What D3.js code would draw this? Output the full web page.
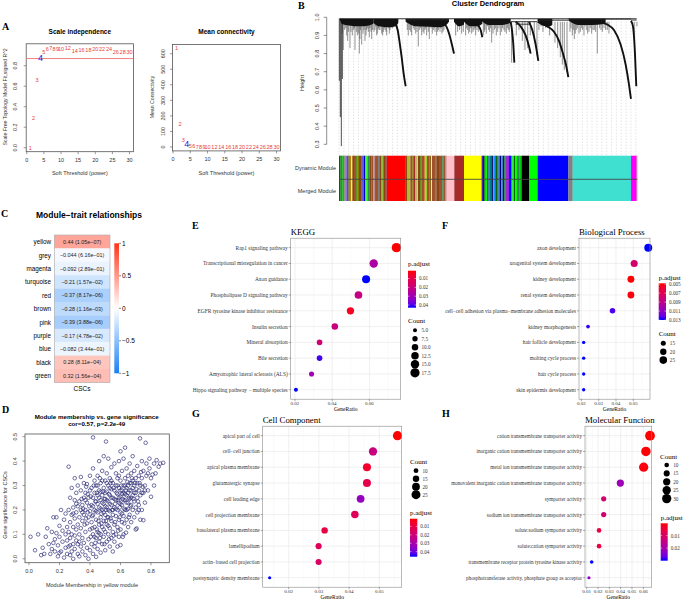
<!DOCTYPE html>
<html><head><meta charset="utf-8">
<script src="https://cdn.jsdelivr.net/npm/d3@7"></script>
<style>body{margin:0;background:#fff}svg{display:block}</style>
</head><body>
<svg id="c" width="685" height="599"></svg>
<script>
// ---------------- DATA ----------------
// Panel A: soft threshold
const powers = [1,2,3,4,5,6,7,8,9,10,12,14,16,18,20,22,24,26,28,30];
const scaleFreeR2 = [0.0,0.29,0.66,0.88,0.93,0.966,0.97,0.96,0.96,0.96,0.976,0.94,0.95,0.953,0.96,0.96,0.966,0.936,0.936,0.936];
const meanConnectivity = [634,148,45,17,8,4,3,2,2,1,1,1,0.5,0.5,0.5,0.3,0.3,0.2,0.2,0.2];
const r2Threshold = 0.87;
const selectedPower = 4;
const powerTicks = [0,5,10,15,20,25,30];
const r2Ticks = [0,0.2,0.4,0.6,0.8];
const kTicks = [0,100,200,300,400,500,600];

// Panel B: dendrogram (leaf position 0..895, height)
const heightTicks = [0.3,0.4,0.5,0.6,0.7,0.8,0.9,1.0];
const dendroMerges = [[1,893,0.992],[200,330,0.986],[515,595,0.976],[530,575,0.962],[596,690,0.984],[688,876,0.99],[876,893,0.985]];
const dendroMasses = [
  [[2,0.99],[8,0.965],[30,0.955],[60,0.95],[90,0.955],[103,0.965]],
  [[103,0.97],[120,0.95],[150,0.945],[170,0.95],[178,0.97]],
  [[200,0.975],[230,0.95],[270,0.948],[300,0.945],[320,0.955],[330,0.975]],
  [[345,0.975],[360,0.95],[375,0.96]],
  [[375,0.975],[395,0.95],[415,0.95],[430,0.965]],
  [[428,0.98],[450,0.958],[490,0.958],[515,0.97]],
  [[596,0.98],[610,0.955],[630,0.95],[640,0.958]],
  [[690,0.98],[720,0.958],[760,0.958],[790,0.962],[800,0.972]]
];
const dendroTails = [
  [[168,0.97],[176,0.93],[182,0.86],[188,0.78],[194,0.69],[200,0.62]],
  [[310,0.97],[322,0.95],[332,0.9],[340,0.84],[345,0.8]],
  [[400,0.975],[415,0.96],[425,0.93],[430,0.89]],
  [[515,0.975],[519,0.93],[523,0.85],[526,0.75]],
  [[530,0.975],[545,0.95],[560,0.9],[570,0.84],[575,0.8]],
  [[570,0.975],[580,0.93],[590,0.85],[598,0.76]],
  [[596,0.975],[625,0.95],[645,0.92],[660,0.87],[672,0.8],[682,0.73],[688,0.67]],
  [[780,0.975],[805,0.96],[825,0.93],[845,0.85],[860,0.74],[870,0.63],[876,0.55]],
  [[876,0.98],[882,0.95],[888,0.8],[892,0.62]]
];
const dendroDeepLeaves = [[1,0.65],[4,0.45],[7,0.29],[10,0.66]];
const dendroDrops = [[13,0.82],[17,0.93],[23,0.9],[28,0.92],[33,0.83],[40,0.9],[44,0.93],[48,0.82],[52,0.92],[55,0.9],[61,0.8],[65,0.93],[68,0.85],[72,0.91],[78,0.87],[83,0.93],[88,0.92],[93,0.94],[98,0.88],
  [10,0.91],[20,0.94],[26,0.87],[36,0.92],[46,0.94],[58,0.91],[63,0.88],[75,0.93],[81,0.9],[86,0.94],[91,0.89],[96,0.92],[101,0.93],
  [108,0.93],[113,0.9],[118,0.94],[123,0.93],[128,0.91],[133,0.92],[138,0.93],[143,0.9],[148,0.94],[153,0.93],[161,0.94],
  [105,0.92],[110,0.95],[115,0.91],[120,0.93],[126,0.95],[131,0.9],[136,0.94],[141,0.92],[146,0.95],[151,0.91],[156,0.94],[165,0.95],
  [208,0.9],[212,0.93],[215,0.92],[223,0.94],[230,0.91],[238,0.84],[242,0.93],[248,0.9],[252,0.92],[258,0.93],[263,0.9],[271,0.88],[276,0.94],[283,0.93],[288,0.92],[293,0.9],[298,0.93],[303,0.92],[309,0.91],[315,0.93],
  [205,0.93],[218,0.9],[226,0.93],[234,0.92],[245,0.94],[255,0.91],[260,0.94],[268,0.92],[280,0.91],[286,0.94],[296,0.92],[306,0.94],[312,0.92],
  [350,0.9],[356,0.92],[362,0.93],[368,0.91],[373,0.92],
  [380,0.9],[386,0.93],[392,0.92],[398,0.91],[405,0.93],[410,0.9],[418,0.92],
  [383,0.94],[389,0.91],[395,0.94],[402,0.92],[408,0.94],[414,0.93],
  [433,0.9],[438,0.93],[445,0.95],[452,0.92],[458,0.86],[466,0.93],[472,0.9],[480,0.94],[488,0.92],[495,0.93],[502,0.91],[508,0.93],
  [436,0.92],[442,0.91],[449,0.93],[455,0.94],[462,0.91],[469,0.94],[476,0.92],[484,0.9],[491,0.94],[498,0.92],[505,0.94],[511,0.92],
  [518,0.75],[532,0.9],[540,0.93],[550,0.87],[558,0.82],[566,0.83],[574,0.9],[586,0.88],[594,0.79],
  [600,0.93],[606,0.95],[612,0.92],[620,0.94],[632,0.9],[648,0.86],[656,0.83],[664,0.78],[670,0.74],[676,0.71],[684,0.7],
  [693,0.92],[700,0.9],[706,0.88],[712,0.93],[720,0.91],[728,0.94],[735,0.9],[742,0.93],[750,0.92],[758,0.91],[766,0.93],[775,0.8],[782,0.94],[790,0.92],[800,0.93],[810,0.91],
  [696,0.94],[703,0.93],[709,0.91],[716,0.94],[724,0.92],[731,0.93],[738,0.95],[746,0.91],[754,0.94],[762,0.93],[770,0.92],[786,0.93],[795,0.94],[805,0.93],
  [886,0.9],[894,0.95]];
const moduleStripes = [
  ["#006400",4],["#228b22",3],["#2f4f4f",3],["#00cd00",2],["#6b8e23",4],["#808080",4],["#9370db",4],["#556b2f",5],["#8b7d6b",4],["#b8860b",3],["#ffff00",4],["#8b4513",5],["#a0522d",6],["#6b8e23",4],["#808000",5],["#8b4513",6],["#4682b4",3],["#6a5acd",6],["#0000cd",4],["#9acd32",3],["#00ff00",5],["#2e8b57",4],["#8b4513",6],["#a0522d",6],["#bc8f8f",5],["#696969",3],["#a0522d",6],["#808080",4],["#8b4513",6],["#cd853f",4],["#00ff00",2],["#8b4513",5],["#696969",5],
  ["#ff0000",57],
  ["#8b4513",4],["#b5b535",6],["#9acd32",4],["#a0522d",6],["#808000",4],["#a52a2a",5],["#bdb76b",5],["#ffd700",3],["#8b4513",6],["#6b8e23",4],["#a0522d",8],["#cd853f",4],["#9acd32",5],["#a0522d",7],["#8b6914",5],["#ffff00",3],["#a0522d",9],["#808080",4],["#8b4513",8],["#a0522d",10],["#2e8b57",3],["#a0522d",5],["#bc8f8f",5],
  ["#ffc0cb",23],["#a52a2a",29],["#ffff00",53],
  ["#4b0082",3],["#0000ff",4],["#228b22",5],["#00ff00",4],["#2f4f4f",3],["#4682b4",6],["#008080",4],["#191970",5],["#00ff00",3],["#1e90ff",4],["#006400",5],["#4169e1",5],["#2e8b57",4],["#000080",4],["#20b2aa",4],["#0000cd",5],["#228b22",4],["#9932cc",4],["#a020f0",6],["#0000ff",6],["#4682b4",4],["#00ff00",5],["#006400",4],["#00ff00",5],["#2e8b57",8],["#00cd00",6],
  ["#000000",23],["#00ff00",25],["#0000ff",92],["#808080",13],["#40e0d0",175],["#ff00ff",17],["#bdb76b",2]
];

// Panel C: module-trait
const modules = ["yellow","grey","magenta","turquoise","red","brown","pink","purple","blue","black","green"];
const moduleCor = [0.44,-0.044,-0.092,-0.21,-0.37,-0.28,-0.39,-0.17,-0.082,0.28,0.32];
const modulePval = ["1.05e−07","6.16e−01","2.89e−01","1.57e−02","8.17e−06","1.16e−03","3.88e−06","4.78e−02","3.44e−01","8.11e−04","1.56e−04"];
const traitName = "CSCs";
const corTicks = [1,0.5,0,-0.5,-1];

// Panel D: MM vs GS (yellow module)
const scatterPoints = [
[0.01,0.09],[0.04,0.035],[0.06,0.10],[0.09,0.045],[0.1,0.02],[0.12,0.125],[0.13,0.06],[0.14,0.02],[0.15,0.04],[0.16,0.17],[0.17,0.08],[0.18,0.17],[0.18,0.105],[0.19,0.01],[0.19,0.055],[0.2,0.135],[0.2,0.09],[0.21,0.2],[0.21,0.03],[0.22,0.07],[0.22,0.115],[0.23,0.005],[0.23,0.16],[0.24,0.045],[0.24,0.1],[0.24,0.185],[0.25,0.02],[0.25,0.075],[0.25,0.13],[0.11,0.09],[0.08,0.015],[0.15,0.11],[0.17,0.03],[0.2,0.025],[0.16,0.065],
[0.26,0.377],[0.26,0.05],[0.26,0.11],[0.26,0.2],[0.27,0.015],[0.27,0.085],[0.27,0.15],[0.27,0.25],[0.28,0.03],[0.28,0.1],[0.28,0.18],[0.28,0.29],[0.29,0.06],[0.29,0.13],[0.29,0.21],[0.29,0.0],[0.3,0.04],[0.3,0.095],[0.3,0.165],[0.3,0.24],[0.3,0.33],[0.31,0.075],[0.31,0.12],[0.31,0.19],[0.31,0.27],[0.32,0.02],[0.32,0.06],[0.32,0.14],[0.32,0.215],[0.32,0.3],[0.33,0.01],[0.33,0.1],[0.33,0.17],[0.33,0.235],[0.34,0.05],[0.34,0.125],[0.34,0.2],[0.34,0.28],[0.34,0.335],[0.35,0.03],[0.35,0.085],[0.35,0.155],[0.35,0.22],[0.36,0.065],[0.36,0.18],[0.36,0.25],[0.36,0.31],[0.37,0.015],[0.37,0.11],[0.37,0.2],[0.37,0.27],[0.38,0.045],[0.38,0.145],[0.38,0.23],[0.38,0.306],[0.39,0.08],[0.39,0.17],[0.39,0.25],[0.39,0.0],[0.4,0.035],[0.4,0.12],[0.4,0.195],[0.4,0.28],[0.4,0.34],[0.27,0.055],[0.29,0.185],[0.31,0.225],[0.33,0.07],[0.35,0.19],[0.37,0.24],
[0.41,0.06],[0.41,0.15],[0.41,0.22],[0.41,0.29],[0.42,0.497],[0.42,0.02],[0.42,0.1],[0.42,0.18],[0.42,0.25],[0.42,0.37],[0.43,0.05],[0.43,0.13],[0.43,0.2],[0.43,0.27],[0.43,0.32],[0.44,0.008],[0.44,0.085],[0.44,0.16],[0.44,0.235],[0.44,0.3],[0.45,0.04],[0.45,0.11],[0.45,0.19],[0.45,0.26],[0.45,0.34],[0.46,0.07],[0.46,0.14],[0.46,0.21],[0.46,0.28],[0.46,0.4],[0.47,0.025],[0.47,0.1],[0.47,0.17],[0.47,0.24],[0.47,0.31],[0.48,0.06],[0.48,0.13],[0.48,0.2],[0.48,0.26],[0.48,0.36],[0.49,0.09],[0.49,0.155],[0.49,0.225],[0.49,0.29],[0.49,0.42],[0.5,0.035],[0.5,0.11],[0.5,0.18],[0.5,0.245],[0.5,0.32],[0.505,0.48],[0.51,0.07],[0.51,0.14],[0.51,0.21],[0.51,0.275],[0.51,0.35],[0.52,0.1],[0.52,0.17],[0.52,0.235],[0.52,0.3],[0.52,0.41],[0.53,0.05],[0.53,0.125],[0.53,0.195],[0.53,0.26],[0.53,0.33],[0.54,0.085],[0.54,0.155],[0.54,0.22],[0.54,0.285],[0.54,0.375],[0.55,0.03],[0.55,0.11],[0.55,0.18],[0.55,0.25],[0.55,0.31],[0.43,0.09],[0.45,0.225],[0.47,0.205],[0.49,0.19],[0.51,0.24],[0.53,0.225],[0.44,0.195],[0.46,0.25],[0.48,0.23],[0.5,0.215],[0.52,0.2],[0.54,0.25],[0.42,0.215],[0.47,0.275],[0.5,0.27],[0.53,0.29],[0.46,0.105],[0.49,0.12],[0.52,0.135],[0.45,0.3],[0.48,0.32],[0.51,0.31],[0.54,0.32],
[0.56,0.07],[0.56,0.14],[0.56,0.21],[0.56,0.28],[0.56,0.39],[0.57,0.1],[0.57,0.175],[0.57,0.24],[0.57,0.3],[0.57,0.35],[0.58,0.05],[0.58,0.13],[0.58,0.2],[0.58,0.265],[0.58,0.33],[0.59,0.09],[0.59,0.16],[0.59,0.23],[0.59,0.29],[0.59,0.4],[0.6,0.056],[0.6,0.12],[0.6,0.19],[0.6,0.255],[0.6,0.32],[0.6,0.44],[0.61,0.15],[0.61,0.22],[0.61,0.28],[0.61,0.36],[0.62,0.1],[0.62,0.175],[0.62,0.24],[0.62,0.3],[0.62,0.41],[0.63,0.2],[0.63,0.265],[0.63,0.33],[0.63,0.455],[0.636,0.107],[0.64,0.16],[0.64,0.23],[0.64,0.29],[0.64,0.37],[0.65,0.13],[0.65,0.205],[0.65,0.27],[0.65,0.34],[0.66,0.18],[0.66,0.245],[0.66,0.31],[0.66,0.39],[0.67,0.15],[0.67,0.22],[0.67,0.28],[0.67,0.35],[0.68,0.2],[0.68,0.26],[0.68,0.32],[0.68,0.42],[0.69,0.17],[0.69,0.235],[0.69,0.3],[0.69,0.36],[0.7,0.12],[0.7,0.21],[0.7,0.27],[0.7,0.33],[0.57,0.205],[0.59,0.25],[0.61,0.265],[0.63,0.24],[0.65,0.23],[0.67,0.25],[0.69,0.27],[0.58,0.3],[0.6,0.28],[0.62,0.27],[0.64,0.26],[0.66,0.28],[0.68,0.29],[0.56,0.245],[0.6,0.225],[0.64,0.2],[0.55,0.2],[0.59,0.34],[0.63,0.3],[0.67,0.31],[0.61,0.185],[0.65,0.3],
[0.706,0.124],[0.71,0.19],[0.71,0.25],[0.71,0.31],[0.71,0.38],[0.72,0.22],[0.72,0.28],[0.72,0.34],[0.728,0.493],[0.73,0.16],[0.73,0.26],[0.73,0.3],[0.74,0.2],[0.74,0.33],[0.74,0.4],[0.75,0.158],[0.75,0.27],[0.75,0.36],[0.76,0.23],[0.76,0.3],[0.765,0.475],[0.77,0.34],[0.77,0.39],[0.78,0.28],[0.78,0.35],[0.79,0.37],[0.8,0.254],[0.8,0.33],[0.81,0.345],[0.82,0.39],[0.83,0.35],[0.837,0.404],[0.85,0.377],[0.86,0.39],[0.88,0.393],[0.82,0.3],[0.79,0.41],[0.74,0.27],[0.72,0.2],[0.76,0.28],
[0.355,0.205],[0.365,0.14],[0.375,0.295],[0.385,0.19],[0.395,0.215],[0.405,0.255],[0.415,0.175],[0.425,0.3],[0.435,0.235],[0.445,0.27],[0.455,0.155],[0.465,0.33],[0.475,0.185],[0.485,0.275],[0.495,0.245],[0.505,0.2],[0.515,0.17],[0.525,0.265],[0.535,0.31],[0.545,0.2],[0.555,0.29],[0.565,0.225],[0.575,0.27],[0.585,0.24],[0.595,0.21],[0.605,0.3],[0.615,0.245],[0.625,0.205],[0.635,0.28],[0.645,0.315],[0.655,0.25],[0.665,0.215],[0.675,0.33],[0.685,0.245],[0.695,0.31],[0.705,0.285],[0.715,0.235],[0.725,0.31],[0.735,0.355],[0.745,0.295],[0.385,0.265],[0.415,0.125],[0.445,0.12],[0.475,0.145],[0.505,0.155],[0.535,0.165],[0.565,0.15],[0.595,0.17],[0.625,0.145],[0.655,0.17],[0.345,0.245],[0.375,0.165],[0.405,0.09],[0.435,0.065],[0.465,0.085],[0.495,0.06],[0.525,0.08],[0.555,0.095],[0.585,0.115],[0.615,0.09]
];
const mmTicks = [0,0.2,0.4,0.6,0.8];
const gsTicks = [0,0.1,0.2,0.3,0.4,0.5];

// Panel E: KEGG
const keggTerms = ["Rap1 signaling pathway","Transcriptional misregulation in cancer","Axon guidance","Phospholipase D signaling pathway","EGFR tyrosine kinase inhibitor resistance","Insulin secretion","Mineral absorption","Bile secretion","Amyotrophic lateral sclerosis (ALS)","Hippo signaling pathway − multiple species"];
const keggRatio = [0.0745,0.0623,0.0582,0.0541,0.0498,0.0414,0.0332,0.0332,0.0289,0.0205];
const keggCount = [18,15,14,13,12,10,8,8,7,5];
const keggPadj = [0.0012,0.027,0.043,0.021,0.004,0.02,0.018,0.041,0.03,0.043];
const keggRatioTicks = [0.02,0.04,0.06];
const keggPadjTicks = [0.01,0.02,0.03,0.04];
const keggCountTicks = [5,7.5,10,12.5,15,17.5];

// Panel F: Biological Process
const bpTerms = ["axon development","urogenital system development","kidney development","renal system development","cell−cell adhesion via plasma−membrane adhesion molecules","kidney morphogenesis","hair follicle development","molting cycle process","hair cycle process","skin epidermis development"];
const bpRatio = [0.0586,0.0505,0.0486,0.0486,0.038,0.0239,0.0214,0.0214,0.0214,0.0214];
const bpCount = [27,23,22,22,17,11,10,10,10,10];
const bpPadj = [0.013,0.0078,0.0048,0.005,0.0125,0.0128,0.013,0.013,0.013,0.013];
const bpRatioTicks = [0.02,0.03,0.04,0.05];
const bpPadjTicks = [0.005,0.007,0.009,0.011,0.013];
const bpCountTicks = [15,20,25];

// Panel G: Cell Component
const ccTerms = ["apical part of cell","cell−cell junction","apical plasma membrane","glutamatergic synapse","cell leading edge","cell projection membrane","basolateral plasma membrane","lamellipodium","actin−based cell projection","postsynaptic density membrane"];
const ccRatio = [0.056,0.0479,0.0459,0.0459,0.0438,0.0419,0.0319,0.0299,0.0299,0.0137];
const ccCount = [26,22,21,21,20,19,15,14,14,6];
const ccPadj = [0.0008,0.021,0.006,0.011,0.034,0.014,0.01,0.014,0.016,0.046];
const ccRatioTicks = [0.02,0.03,0.04,0.05];
const ccPadjTicks = [0.01,0.02,0.03,0.04];
const ccCountTicks = [10,15,20,25];

// Panel H: Molecular Function
const mfTerms = ["cation transmembrane transporter activity","inorganic cation transmembrane transporter activity","metal ion transmembrane transporter activity","monovalent inorganic cation transmembrane transporter activity","symporter activity","sodium ion transmembrane transporter activity","solute:sodium symporter activity","solute:cation symporter activity","transmembrane receptor protein tyrosine kinase activity","phosphotransferase activity, phosphate group as acceptor"];
const mfRatio = [0.0659,0.0623,0.0603,0.0397,0.025,0.025,0.0209,0.0209,0.0144,0.012];
const mfCount = [33,31,30,20,12,12,10,10,7,6];
const mfPadj = [0.0002,0.0004,0.0008,0.021,0.011,0.012,0.006,0.006,0.030,0.022];
const mfRatioTicks = [0.01,0.02,0.03,0.04,0.05,0.06];
const mfPadjTicks = [0.01,0.02];
const mfCountTicks = [10,15,20,25,30];

// ---------------- DRAWING ----------------
const svg = d3.select("#c");
const SANS = "'Liberation Sans', Arial, Helvetica, sans-serif";
const SERIF = "'Liberation Serif', 'Times New Roman', Times, serif";
const defs = svg.append("defs");

function txt(p, x, y, s, o = {}) {
  const t = p.append("text").attr("x", x).attr("y", y).text(s)
    .attr("font-family", o.family || SANS).attr("font-size", o.size || 6)
    .attr("fill", o.fill || "#000").attr("text-anchor", o.anchor || "start");
  if (o.weight) t.attr("font-weight", o.weight);
  if (o.rotate) t.attr("transform", `rotate(${o.rotate},${x},${y})`);
  if (o.baseline) t.attr("dominant-baseline", o.baseline);
  return t;
}
function line(p, x1, y1, x2, y2, stroke, w, dash) {
  const l = p.append("line").attr("x1", x1).attr("y1", y1).attr("x2", x2).attr("y2", y2)
    .attr("stroke", stroke).attr("stroke-width", w);
  if (dash) l.attr("stroke-dasharray", dash);
  return l;
}

// Panel letters
[["A",2,30],["B",298,8.5],["C",1,217],["D",2,413],["E",192,228.5],["F",442,228.5],["G",192,417],["H",442,417]]
  .forEach(([s,x,y]) => txt(svg, x, y, s, {family: SERIF, size: 10, weight: "bold"}));

// ---------- Panel A ----------
function sftPlot(cfg) {
  const g = svg.append("g");
  const x = d3.scaleLinear().domain([-0.16, 31.16]).range([cfg.l, cfg.r]);
  const y = d3.scaleLinear().domain(cfg.yDom).range([cfg.b, cfg.t]);
  g.append("rect").attr("x", cfg.l).attr("y", cfg.t).attr("width", cfg.r - cfg.l).attr("height", cfg.b - cfg.t)
    .attr("fill", "none").attr("stroke", "#555").attr("stroke-width", 0.8);
  powerTicks.forEach(v => {
    line(g, x(v), cfg.b, x(v), cfg.b + 2.5, "#555", 0.6);
    txt(g, x(v), cfg.b + 10.5, v, {size: 5.5, anchor: "middle", fill: "#333"});
  });
  cfg.yTicks.forEach(v => {
    line(g, cfg.l - 2.5, y(v), cfg.l, y(v), "#555", 0.6);
    txt(g, cfg.yLabX, y(v), cfg.fmt(v), {size: 5.5, anchor: "middle", fill: "#333", rotate: -90});
  });
  txt(g, (cfg.l + cfg.r) / 2, 34, cfg.title, {size: 6.5, weight: "bold", anchor: "middle"});
  txt(g, (cfg.l + cfg.r) / 2, 175, "Soft Threshold (power)", {size: 5.5, anchor: "middle", fill: "#333"});
  txt(g, cfg.yTitleX, 97, cfg.yTitle, {size: 5.2, anchor: "middle", fill: "#333", rotate: -90});
  if (cfg.hline !== undefined)
    line(g, cfg.l, y(cfg.hline), cfg.r, y(cfg.hline), "#f08080", 1);
  powers.forEach((p, i) => {
    const sel = p === selectedPower;
    txt(g, x(p), y(cfg.vals[i]), p, {size: sel ? 9 : 5.5, anchor: "middle", baseline: "central",
      fill: sel ? "#2020e0" : "#e8403a"});
  });
}
sftPlot({l: 26.2, r: 133.5, t: 43.8, b: 151.7, yDom: [-0.039, 1.014], yTicks: r2Ticks, fmt: d3.format(".1f"),
  yLabX: 17.5, yTitleX: 6.8, yTitle: "Scale Free Topology Model Fit,signed R^2", title: "Scale independence",
  vals: scaleFreeR2, hline: r2Threshold});
sftPlot({l: 172.5, r: 280.5, t: 44.5, b: 150.9, yDom: [-25, 659], yTicks: kTicks, fmt: d3.format("d"),
  yLabX: 165.5, yTitleX: 154.3, yTitle: "Mean Connectivity", title: "Mean connectivity",
  vals: meanConnectivity});

// ---------- Panel B ----------
{
  const g = svg.append("g");
  const xD = d3.scaleLinear().domain([0, 895]).range([339, 637.3]);
  const yD = d3.scaleLinear().domain([0.3, 1.0]).range([144.3, 17.3]);
  const barTop = 155.7, barMid = 179.3, barBot = 201;
  txt(g, 488, 6.2, "Cluster Dendrogram", {size: 7.5, weight: "bold", anchor: "middle"});
  line(g, 326.7, yD(1.0), 326.7, yD(0.3), "#444", 0.6);
  heightTicks.forEach(v => {
    line(g, 323.7, yD(v), 326.7, yD(v), "#444", 0.6);
    txt(g, 319, yD(v), d3.format(".1f")(v), {size: 5.5, anchor: "middle", fill: "#333", rotate: -90});
  });
  txt(g, 304.3, 83, "Height", {size: 5.5, anchor: "middle", fill: "#333", rotate: -90});
  d3.range(0, 896, 14.6).forEach(p => line(g, xD(p), yD(0.993), xD(p), barTop, "#c8c8c8", 0.5, "1.5,1.5"));
  dendroDrops.forEach(([p, h]) => line(g, xD(p), yD(0.975), xD(p), yD(h), "#3a3a3a", 0.55));
  dendroDeepLeaves.forEach(([p, h]) => line(g, xD(p), yD(0.992), xD(p), yD(h), "#222", 0.8));
  const area = d3.area().x(d => xD(d[0])).y0(yD(0.992)).y1(d => yD(d[1])).curve(d3.curveMonotoneX);
  dendroMasses.forEach(m => g.append("path").attr("d", area(m)).attr("fill", "#111"));
  const ln = d3.line().x(d => xD(d[0])).y(d => yD(d[1])).curve(d3.curveMonotoneX);
  dendroTails.forEach(t => g.append("path").attr("d", ln(t)).attr("fill", "none").attr("stroke", "#111").attr("stroke-width", 1.9));
  dendroMerges.forEach(([a, b, h]) => line(g, xD(a), yD(h), xD(b), yD(h), "#222", 0.9));
  const total = d3.sum(moduleStripes, d => d[1]);
  const xS = d3.scaleLinear().domain([0, total]).range([339, 637.3]);
  let acc = 0;
  moduleStripes.forEach(([c, w]) => {
    [barTop, barMid].forEach(y0 => g.append("rect").attr("x", xS(acc)).attr("y", y0)
      .attr("width", xS(acc + w) - xS(acc) + 0.15).attr("height", (y0 === barTop ? barMid : barBot) - y0).attr("fill", c));
    acc += w;
  });
  line(g, 339, barMid, 637.3, barMid, "#333", 0.8);
  txt(g, 336, 169.5, "Dynamic Module", {size: 5.5, anchor: "end", fill: "#333"});
  txt(g, 336, 193, "Merged Module", {size: 5.5, anchor: "end", fill: "#333"});
}

// ---------- Panel C ----------
{
  const g = svg.append("g");
  const heat = d3.scaleLinear().domain([-1, 0, 1]).range(["#1a80f5", "#ffffff", "#ff3317"]);
  const yB = d3.scaleBand().domain(modules).range([235, 382.4]);
  const cx0 = 54.3, cx1 = 110;
  txt(g, 89, 218, "Module−trait relationships", {size: 8.5, weight: "bold", anchor: "middle"});
  modules.forEach((m, i) => {
    g.append("rect").attr("x", cx0).attr("y", yB(m)).attr("width", cx1 - cx0).attr("height", yB.bandwidth() + 0.2)
      .attr("fill", heat(moduleCor[i]));
    txt(g, 51, yB(m) + yB.bandwidth() / 2, m, {size: 6.3, anchor: "end", baseline: "central"});
    const v = String(moduleCor[i]).replace("-", "−");
    txt(g, (cx0 + cx1) / 2, yB(m) + yB.bandwidth() / 2, `${v} (${modulePval[i]})`, {size: 5.4, anchor: "middle", baseline: "central", fill: "#222"});
  });
  g.append("rect").attr("x", cx0).attr("y", 235).attr("width", cx1 - cx0).attr("height", 147.4)
    .attr("fill", "none").attr("stroke", "#aaa").attr("stroke-width", 0.6);
  txt(g, 82, 391, traitName, {size: 6.5, anchor: "middle"});
  const yC = d3.scaleLinear().domain([-1, 1]).range([373.3, 243.3]);
  const gid = "heatGrad";
  const gr = defs.append("linearGradient").attr("id", gid).attr("x1", 0).attr("y1", 1).attr("x2", 0).attr("y2", 0);
  d3.range(-1, 1.001, 0.1).forEach(v => gr.append("stop").attr("offset", (v + 1) / 2).attr("stop-color", heat(v)));
  g.append("rect").attr("x", 114.3).attr("y", 243.3).attr("width", 4.7).attr("height", 130).attr("fill", `url(#${gid})`);
  corTicks.forEach(v => {
    line(g, 119, yC(v), 121, yC(v), "#333", 0.6);
    txt(g, 122, yC(v), String(v).replace("-", "−"), {size: 6.5, baseline: "central"});
  });
}

// ---------- Panel D ----------
{
  const g = svg.append("g");
  const l = 25, r = 169.3, t = 434, b = 562.7;
  const x = d3.scaleLinear().domain([-0.026, 0.92]).range([l, r]);
  const y = d3.scaleLinear().domain([-0.016, 0.511]).range([b, t]);
  txt(g, 96.7, 418.8, "Module membership vs. gene significance", {size: 6.2, weight: "bold", anchor: "middle"});
  txt(g, 96.7, 426.4, "cor=0.57, p=2.2e-49", {size: 6.2, weight: "bold", anchor: "middle"});
  g.append("rect").attr("x", l).attr("y", t).attr("width", r - l).attr("height", b - t)
    .attr("fill", "none").attr("stroke", "#555").attr("stroke-width", 0.8);
  mmTicks.forEach(v => {
    line(g, x(v), b, x(v), b + 2.5, "#555", 0.6);
    txt(g, x(v), 573, d3.format(".1f")(v), {size: 5.5, anchor: "middle", fill: "#333"});
  });
  gsTicks.forEach(v => {
    line(g, l - 2.5, y(v), l, y(v), "#555", 0.6);
    txt(g, 17.3, y(v), d3.format(".1f")(v), {size: 5.5, anchor: "middle", fill: "#333", rotate: -90});
  });
  txt(g, 92, 587, "Module Membership in yellow module", {size: 5.5, anchor: "middle", fill: "#333"});
  txt(g, 6.5, 505, "Gene significance for CSCs", {size: 5.5, anchor: "middle", fill: "#333", rotate: -90});
  g.selectAll("circle.pt").data(scatterPoints).join("circle")
    .attr("cx", d => x(d[0])).attr("cy", d => y(d[1])).attr("r", 1.8)
    .attr("fill", "none").attr("stroke", "#262673").attr("stroke-width", 0.65);
}

// ---------- Panels E-H ----------
function dotPanel(cfg) {
  const g = svg.append("g");
  const {l, r, t, b} = cfg.box;
  const x = d3.scaleLinear().domain(cfg.xDomain).range([l, r]);
  const y = d3.scalePoint().domain(cfg.cats).range([t, b]).padding(0.6);
  const cExt = d3.extent(cfg.count), pExt = d3.extent(cfg.padj);
  const rS = d3.scalePow().exponent(0.5).domain(cExt).range(cfg.rRange);
  const col = d3.scaleLinear().domain(pExt).range(["#ff0000", "#0000ff"]).interpolate(d3.interpolateLab);
  g.append("rect").attr("x", l).attr("y", t).attr("width", r - l).attr("height", b - t).attr("fill", "#fff");
  const step = cfg.ticks[1] - cfg.ticks[0];
  d3.range(cfg.ticks[0] - step / 2, cfg.xDomain[1], step).filter(v => v > cfg.xDomain[0])
    .forEach(v => line(g, x(v), t, x(v), b, "#f2f2f2", 0.4));
  cfg.ticks.forEach(v => line(g, x(v), t, x(v), b, "#e6e6e6", 0.6));
  cfg.cats.forEach(c => line(g, l, y(c), r, y(c), "#e6e6e6", 0.6));
  const idx = d3.range(cfg.cats.length);
  g.selectAll("circle.dot").data(idx).join("circle")
    .attr("cx", i => x(cfg.ratio[i])).attr("cy", i => y(cfg.cats[i])).attr("r", i => rS(cfg.count[i]))
    .attr("fill", i => col(cfg.padj[i]));
  g.append("rect").attr("x", l).attr("y", t).attr("width", r - l).attr("height", b - t)
    .attr("fill", "none").attr("stroke", "#8a8a8a").attr("stroke-width", 0.6);
  cfg.cats.forEach(c => {
    line(g, l - 2, y(c), l, y(c), "#555", 0.5);
    txt(g, l - 3, y(c), c, {family: SERIF, size: cfg.catSize, anchor: "end", baseline: "central", fill: "#333"});
  });
  cfg.ticks.forEach(v => {
    line(g, x(v), b, x(v), b + 2, "#555", 0.5);
    txt(g, x(v), b + 6.2, d3.format(".2f")(v), {family: SERIF, size: 5, anchor: "middle", fill: "#333"});
  });
  txt(g, (l + r) / 2, b + 11.6, "GeneRatio", {family: SERIF, size: 5.5, anchor: "middle"});
  txt(g, l, cfg.titleY, cfg.title, {family: SERIF, size: 8.8});
  const cb = cfg.cbar;
  txt(g, cb.x, cb.titleY, "p.adjust", {family: SERIF, size: 7});
  const gid = "grad" + cfg.id;
  const gr = defs.append("linearGradient").attr("id", gid).attr("x1", 0).attr("y1", 0).attr("x2", 0).attr("y2", 1);
  d3.range(0, 1.001, 0.1).forEach(f => gr.append("stop").attr("offset", f)
    .attr("stop-color", col(pExt[0] + f * (pExt[1] - pExt[0]))));
  g.append("rect").attr("x", cb.x).attr("y", cb.y0).attr("width", cb.w).attr("height", cb.y1 - cb.y0).attr("fill", `url(#${gid})`);
  const yC = d3.scaleLinear().domain(pExt).range([cb.y0, cb.y1]);
  cfg.padjTicks.forEach(v => {
    line(g, cb.x, yC(v), cb.x + 1.5, yC(v), "#fff", 0.5);
    line(g, cb.x + cb.w - 1.5, yC(v), cb.x + cb.w, yC(v), "#fff", 0.5);
    txt(g, cb.x + cb.w + 3, yC(v), String(v), {family: SERIF, size: 5.2, baseline: "central", fill: "#333"});
  });
  const sl = cfg.sizeLeg;
  txt(g, sl.titleX, sl.titleY, "Count", {family: SERIF, size: 7});
  cfg.countTicks.forEach((v, i) => {
    const cy = sl.y0 + i * sl.step;
    g.append("circle").attr("cx", sl.x).attr("cy", cy).attr("r", rS(v)).attr("fill", "#000");
    txt(g, sl.x + 6.5, cy, cfg.countFmt(v), {family: SERIF, size: 5.2, baseline: "central", fill: "#333"});
  });
}

dotPanel({id: "E", cats: keggTerms, ratio: keggRatio, count: keggCount, padj: keggPadj,
  box: {l: 290.7, r: 400.7, t: 238.2, b: 399.2}, xDomain: [0.0177, 0.0768], ticks: keggRatioTicks,
  title: "KEGG", titleY: 235, catSize: 5.4, rRange: [2.0, 4.7],
  cbar: {x: 408, y0: 270.7, y1: 307.7, w: 8, titleY: 265.5}, padjTicks: keggPadjTicks,
  sizeLeg: {titleX: 408, titleY: 323, x: 415, y0: 330.3, step: 8.5}, countTicks: keggCountTicks, countFmt: d3.format(".1f")});

dotPanel({id: "F", cats: bpTerms, ratio: bpRatio, count: bpCount, padj: bpPadj,
  box: {l: 579, r: 650, t: 238.2, b: 399.2}, xDomain: [0.0187, 0.0596], ticks: bpRatioTicks,
  title: "Biological Process", titleY: 235, catSize: 5.3, rRange: [1.7, 4.0],
  cbar: {x: 658.7, y0: 283.3, y1: 320, w: 7.3, titleY: 279.5}, padjTicks: bpPadjTicks,
  sizeLeg: {titleX: 658.7, titleY: 335.5, x: 663.3, y0: 343.3, step: 8.4}, countTicks: bpCountTicks, countFmt: d3.format("d")});

dotPanel({id: "G", cats: ccTerms, ratio: ccRatio, count: ccCount, padj: ccPadj,
  box: {l: 262.7, r: 401.7, t: 426.2, b: 587.2}, xDomain: [0.0114, 0.0574], ticks: ccRatioTicks,
  title: "Cell Component", titleY: 422.5, catSize: 5.3, rRange: [1.6, 4.6],
  cbar: {x: 410, y0: 518.7, y1: 556.7, w: 7.3, titleY: 514.5}, padjTicks: ccPadjTicks,
  sizeLeg: {titleX: 410, titleY: 463.5, x: 416, y0: 470.7, step: 8}, countTicks: ccCountTicks, countFmt: d3.format("d")});

dotPanel({id: "H", cats: mfTerms, ratio: mfRatio, count: mfCount, padj: mfPadj,
  box: {l: 585, r: 651.7, t: 426.2, b: 587.2}, xDomain: [0.0085, 0.0674], ticks: mfRatioTicks,
  title: "Molecular Function", titleY: 422.5, catSize: 5.1, rRange: [1.6, 4.9],
  cbar: {x: 660.7, y0: 523.3, y1: 560.7, w: 7, titleY: 519.5}, padjTicks: mfPadjTicks,
  sizeLeg: {titleX: 660, titleY: 459, x: 666.7, y0: 465, step: 8.4}, countTicks: mfCountTicks, countFmt: d3.format("d")});
</script>
</body></html>
